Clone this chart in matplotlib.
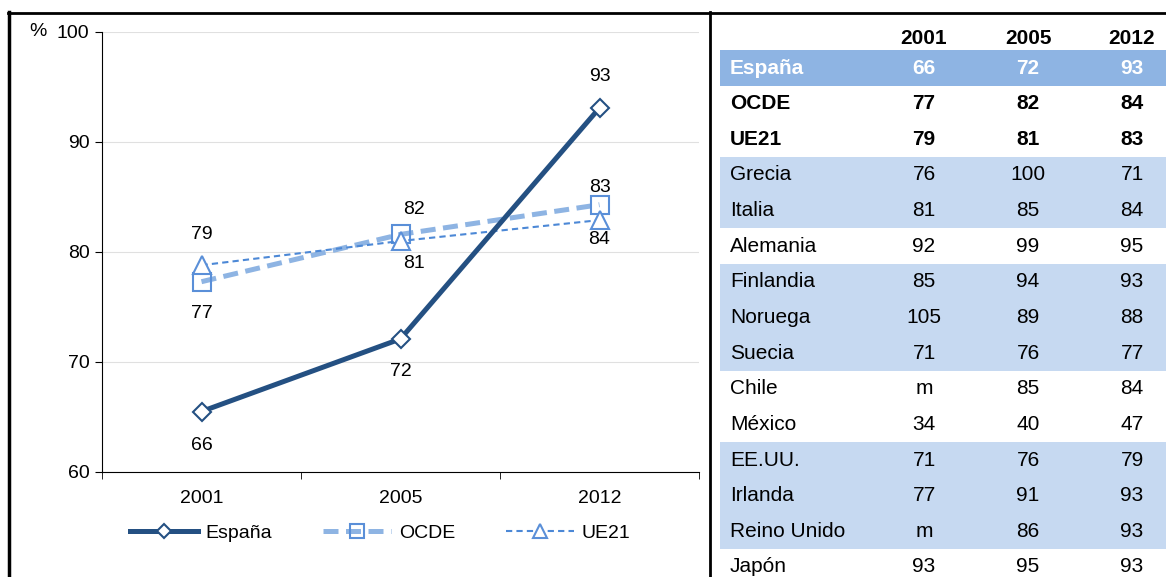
import matplotlib
matplotlib.use("Agg")
import matplotlib.pyplot as plt
from matplotlib.lines import Line2D

plt.rcParams["font.family"] = ["Liberation Sans", "DejaVu Sans"]

# =========================
# DATA
# =========================

years = ["2001", "2005", "2012"]

espana = [65.5, 72.1, 93.1]
ocde = [77.3, 81.6, 84.3]
ue21 = [78.8, 81.0, 82.9]

# labels as printed on the chart
espana_labels = ["66", "72", "93"]
ocde_labels = ["77", "82", "83"]
ue21_labels = ["79", "81", "84"]

table_header = ["2001", "2005", "2012"]
table_rows = [
    "España", "OCDE", "UE21", "Grecia", "Italia", "Alemania",
    "Finlandia", "Noruega", "Suecia", "Chile", "México",
    "EE.UU.", "Irlanda", "Reino Unido", "Japón",
]
table_values = [
    ["66", "72", "93"],
    ["77", "82", "84"],
    ["79", "81", "83"],
    ["76", "100", "71"],
    ["81", "85", "84"],
    ["92", "99", "95"],
    ["85", "94", "93"],
    ["105", "89", "88"],
    ["71", "76", "77"],
    ["m", "85", "84"],
    ["34", "40", "47"],
    ["71", "76", "79"],
    ["77", "91", "93"],
    ["m", "86", "93"],
    ["93", "95", "93"],
]
# row shading: 0 none, 1 medium blue, 2 light blue
row_shade = [1, 0, 0, 2, 2, 0, 2, 2, 2, 0, 0, 2, 2, 2, 0]

# =========================
# COLOURS
# =========================

DARK = "#245082"
MID = "#8EB4E3"
LIGHT = "#C6D9F1"
UE_COL = "#4C88D6"
MARK_EDGE = "#5A8FD8"

W, H = 1166, 577
FS_CHART = 14
FS_TABLE = 15

fig = plt.figure(figsize=(W / 100, H / 100), dpi=100)

# =========================
# FRAME LINES
# =========================

fig.add_artist(Line2D([8 / W, 1], [1 - 13 / H, 1 - 13 / H], color="black", lw=2))
fig.add_artist(Line2D([9 / W, 9 / W], [0, 1 - 12 / H], color="black", lw=2.5))
fig.add_artist(Line2D([710 / W, 710 / W], [0, 1 - 12 / H], color="black", lw=2))

# =========================
# LINE CHART
# =========================

ax = fig.add_axes([102 / W, 1 - 472 / H, (699 - 102) / W, (472 - 32) / H])
x = range(len(years))

ax.plot(x, espana, color=DARK, lw=3.6, marker="D", ms=9, mfc="white",
        mec=DARK, mew=1.5, label="España", zorder=3)
ax.plot(x, ocde, color=MID, lw=3.6, ls=(0, (3, 1.5)), marker="s", ms=13,
        mfc="none", mec=MARK_EDGE, mew=1.5, label="OCDE", zorder=2)
ax.plot(x, ue21, color=UE_COL, lw=1.5, ls=(0, (3, 2)), marker="^", ms=13,
        mfc="white", mec=MARK_EDGE, mew=1.5, label="UE21", zorder=2)

ax.set_xlim(-0.5, 2.5)
ax.set_ylim(60, 100)
ax.set_yticks([60, 70, 80, 90, 100])
ax.set_xticks(list(x))
ax.set_xticklabels(years)
ax.set_xticks([-0.5, 0.5, 1.5, 2.5], minor=True)
ax.tick_params(axis="x", which="major", length=0, pad=13, labelsize=FS_CHART)
ax.tick_params(axis="x", which="minor", length=5, direction="out")
ax.tick_params(axis="y", length=5, direction="out", labelsize=FS_CHART, pad=4)
ax.grid(axis="y", color="#E0E0E0", lw=0.8)
ax.set_axisbelow(True)
for side in ["top", "right"]:
    ax.spines[side].set_visible(False)

ax.text((38 - 102) / 597, 1.0, "%", transform=ax.transAxes, ha="center",
        va="center", fontsize=FS_CHART)

# data labels (offsets in pixels)
esp_off = [(0, -34), (0, -33), (0, 31)]
ocde_off = [(0, -32), (14, 25), (0, 17)]
ue_off = [(0, 31), (14, -22), (0, -19)]

for i in x:
    ax.annotate(espana_labels[i], (i, espana[i]), textcoords="offset pixels",
                xytext=esp_off[i], ha="center", va="center", fontsize=FS_CHART)
    ax.annotate(ocde_labels[i], (i, ocde[i]), textcoords="offset pixels",
                xytext=ocde_off[i], ha="center", va="center", fontsize=FS_CHART)
    ax.annotate(ue21_labels[i], (i, ue21[i]), textcoords="offset pixels",
                xytext=ue_off[i], ha="center", va="center", fontsize=FS_CHART)

fig.legend(
    handles=ax.get_lines(),
    loc="center",
    bbox_to_anchor=(380 / W, 1 - 533 / H),
    ncol=3,
    frameon=False,
    handlelength=3.5,
    handletextpad=0.4,
    columnspacing=2.6,
    markerscale=0.75,
    fontsize=FS_CHART,
)

# =========================
# TABLE (pixel coordinates)
# =========================

tax = fig.add_axes([0, 0, 1, 1])
tax.set_xlim(0, W)
tax.set_ylim(H, 0)
tax.axis("off")

col_x = [924, 1028, 1132]
header_y = 39
first_row_y = 68
row_h = 35.64

for j, head in enumerate(table_header):
    tax.text(col_x[j], header_y, head, ha="center", va="center",
             fontsize=FS_TABLE, fontweight="bold")

for i, name in enumerate(table_rows):
    r = first_row_y + i * row_h
    shade = row_shade[i]
    if shade:
        tax.fill_between([720, W], r - row_h / 2, r + row_h / 2,
                         color=MID if shade == 1 else LIGHT, lw=0)
    bold = i < 3
    color = "white" if shade == 1 else "black"
    weight = "bold" if bold else "normal"
    tax.text(730, r, name, ha="left", va="center", fontsize=FS_TABLE,
             fontweight=weight, color=color)
    for j, val in enumerate(table_values[i]):
        tax.text(col_x[j], r, val, ha="center", va="center",
                 fontsize=FS_TABLE, fontweight=weight, color=color)

fig.savefig("out.png", dpi=100)
